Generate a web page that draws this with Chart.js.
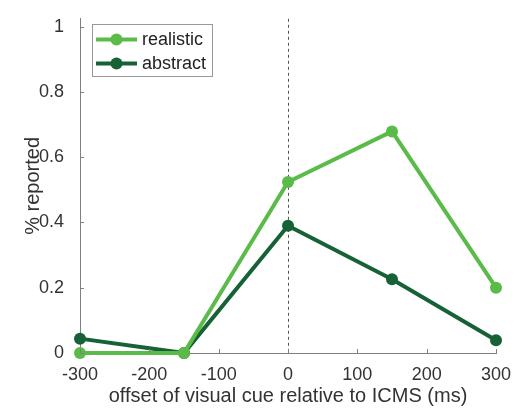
<!DOCTYPE html>
<html>
<head>
<meta charset="utf-8">
<script src="https://cdn.jsdelivr.net/npm/chart.js@4"></script>
<style>
  html, body { margin: 0; padding: 0; background: #fff; overflow: hidden; }
  canvas { display: block; }
</style>
</head>
<body>
<canvas id="chart1" width="521" height="408"></canvas>
<script>
// data
var offsets = [-300, -150, 0, 150, 300];
var realistic = [0, 0, 0.524, 0.679, 0.20];
var abstract = [0.044, 0, 0.39, 0.226, 0.039];
var seriesNames = ['realistic', 'abstract'];
var xTicks = [-300, -200, -100, 0, 100, 200, 300];
var yTicks = [0, 0.2, 0.4, 0.6, 0.8, 1];

var lightGreen = 'rgb(90,187,72)';
var darkGreen = 'rgb(22,98,54)';
var FONT = 'Liberation Sans, Arial, sans-serif';

function pts(vals) {
    return offsets.map(function (x, i) { return { x: x, y: vals[i] }; });
}

// inward ticks, dashed zero line, legend box
var extras = {
    id: 'extras',
    beforeDatasetsDraw: function (chart) {
        var c = chart.ctx, a = chart.chartArea;
        var xs = chart.scales.x;
        c.save();
        var x0 = Math.round(xs.getPixelForValue(0)) + 0.5;
        c.strokeStyle = '#555';
        c.lineWidth = 1;
        c.setLineDash([3, 3]);
        c.beginPath();
        c.moveTo(x0, a.top);
        c.lineTo(x0, a.bottom);
        c.stroke();
        c.restore();
    },
    afterDraw: function (chart) {
        var c = chart.ctx, a = chart.chartArea;
        var xs = chart.scales.x, ys = chart.scales.y;
        c.save();
        c.strokeStyle = '#808080';
        c.lineWidth = 1;
        c.beginPath();
        xTicks.forEach(function (v) {
            var p = Math.round(xs.getPixelForValue(v)) + 0.5;
            c.moveTo(p, a.bottom);
            c.lineTo(p, a.bottom - 4);
        });
        yTicks.forEach(function (v) {
            var p = Math.round(ys.getPixelForValue(v)) + 0.5;
            c.moveTo(a.left, p);
            c.lineTo(a.left + 4, p);
        });
        c.stroke();
        // legend
        c.fillStyle = '#fff';
        c.fillRect(92, 24, 120, 52);
        c.strokeStyle = '#999';
        c.strokeRect(92.5, 24.5, 120, 52);
        var cols = [lightGreen, darkGreen];
        var rows = [39.5, 63.5];
        c.font = '18px ' + FONT;
        c.textBaseline = 'middle';
        seriesNames.forEach(function (n, i) {
            c.strokeStyle = cols[i];
            c.lineWidth = 4;
            c.beginPath();
            c.moveTo(96, rows[i]);
            c.lineTo(137, rows[i]);
            c.stroke();
            c.fillStyle = cols[i];
            c.beginPath();
            c.arc(116.5, rows[i], 6, 0, Math.PI * 2);
            c.fill();
            c.fillStyle = '#222';
            c.fillText(n, 142, rows[i] + 1);
        });
        c.restore();
    }
};

var ctx = document.getElementById('chart1').getContext('2d');
var chart = new Chart(ctx, {
    type: 'line',
    data: {
        datasets: [{
            label: seriesNames[0],
            data: pts(realistic),
            borderColor: lightGreen,
            backgroundColor: lightGreen,
            borderWidth: 4,
            pointRadius: 6,
            pointBorderWidth: 0,
            clip: false
        }, {
            label: seriesNames[1],
            data: pts(abstract),
            borderColor: darkGreen,
            backgroundColor: darkGreen,
            borderWidth: 4,
            pointRadius: 6,
            pointBorderWidth: 0,
            clip: false
        }]
    },
    options: {
        responsive: false,
        animation: false,
        devicePixelRatio: 1,
        layout: { padding: { top: 13, right: 25, left: 0, bottom: 0 } },
        plugins: {
            legend: { display: false },
            tooltip: { enabled: false }
        },
        scales: {
            x: {
                type: 'linear',
                min: -300,
                max: 300,
                afterFit: function (s) { s.height = 55; },
                afterBuildTicks: function (s) { s.ticks = xTicks.map(function (v) { return { value: v }; }); },
                grid: { display: false },
                border: { display: true, color: '#808080', width: 1 },
                ticks: { color: '#333', padding: 3, maxRotation: 0, minRotation: 0, autoSkip: false, font: { size: 18, family: FONT } },
                title: {
                    display: true,
                    text: 'offset of visual cue relative to ICMS (ms)',
                    color: '#333',
                    padding: { top: 0, bottom: 0 },
                    font: { size: 20, family: FONT }
                }
            },
            y: {
                min: 0,
                max: 1.024,
                afterFit: function (s) { s.width = 80; },
                afterBuildTicks: function (s) { s.ticks = yTicks.map(function (v) { return { value: v }; }); },
                grid: { display: false },
                border: { display: true, color: '#808080', width: 1 },
                ticks: {
                    color: '#333', padding: 8, autoSkip: false, font: { size: 18, family: FONT },
                    callback: function (v) { return String(v); }
                },
                title: {
                    display: true,
                    text: '% reported',
                    color: '#333',
                    padding: { top: 21, bottom: 0 },
                    font: { size: 20, family: FONT }
                }
            }
        }
    },
    plugins: [extras]
});
</script>
</body>
</html>
